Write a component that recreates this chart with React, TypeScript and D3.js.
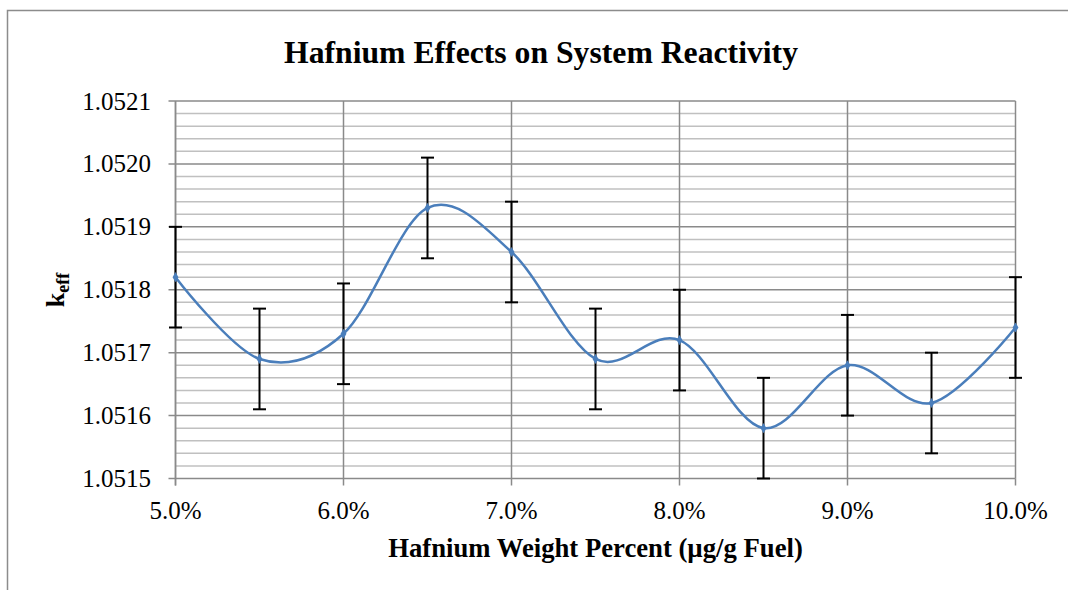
import React, { useEffect } from "react";
import * as d3 from "d3";

const xValues = [5.0, 5.5, 6.0, 6.5, 7.0, 7.5, 8.0, 8.5, 9.0, 9.5, 10.0];
const keffValues = [1.05182, 1.05169, 1.05173, 1.05193, 1.05186, 1.05169, 1.05172, 1.05158, 1.05168, 1.05162, 1.05174];
const errValues = [0.00008, 0.00008, 0.00008, 0.00008, 0.00008, 0.00008, 0.00008, 0.00008, 0.00008, 0.00008, 0.00008];
const xTicks = [5, 6, 7, 8, 9, 10];
const yMajorTicks = [1.0515, 1.0516, 1.0517, 1.0518, 1.0519, 1.052, 1.0521];

const W = 1068;
const H = 590;
const left = 175.5;
const right = 1015.5;
const top = 101;
const bottom = 478.5;

export default function App() {
  useEffect(() => {
    document.body.style.margin = "0";
  }, []);

  const x = d3.scaleLinear().domain([5, 10]).range([left, right]);
  const y = d3.scaleLinear().domain([1.0515, 1.0521]).range([bottom, top]);

  const minorTicks: number[] = [];
  for (let i = 0; i <= 30; i++) {
    if (i % 5 !== 0) minorTicks.push(1.0515 + i * 0.00002);
  }

  const pts: [number, number][] = xValues.map((v, i) => [x(v), y(keffValues[i])]);
  const line = d3.line<[number, number]>().curve(d3.curveCardinal.tension(0))(pts) || "";

  const font = "'Liberation Serif', 'Times New Roman', serif";
  const cap = 6.5;

  return (
    <svg width={W} height={H} style={{ position: "absolute", left: 0, top: 0, display: "block" }} fontFamily={font}>
      <rect x={0} y={0} width={W} height={H} fill="#fff" />
      <rect x={7.5} y={10.5} width={W + 20} height={H + 20} fill="none" stroke="#8c8c8c" strokeWidth={1.5} />

      <text x={541} y={63} textAnchor="middle" fontSize={31.7} fontWeight="bold" fill="#000">
        Hafnium Effects on System Reactivity
      </text>

      {minorTicks.map((t, i) => (
        <line key={"mn" + i} x1={left} x2={right} y1={y(t)} y2={y(t)} stroke="#c0c0c0" strokeWidth={1.5} />
      ))}
      {xTicks.map((t) => (
        <line key={"vx" + t} x1={x(t)} x2={x(t)} y1={top} y2={bottom} stroke="#8a8a8a" strokeWidth={1.5} />
      ))}
      {yMajorTicks.map((t) => (
        <line key={"mj" + t} x1={left - 7} x2={right} y1={y(t)} y2={y(t)} stroke="#8a8a8a" strokeWidth={1.5} />
      ))}
      <line x1={left} x2={left} y1={top} y2={bottom + 7} stroke="#8a8a8a" strokeWidth={1.5} />
      {xTicks.map((t) => (
        <line key={"tx" + t} x1={x(t)} x2={x(t)} y1={bottom} y2={bottom + 7} stroke="#8a8a8a" strokeWidth={1.5} />
      ))}

      {yMajorTicks.map((t) => (
        <text key={"yl" + t} x={151} y={y(t) + 8.5} textAnchor="end" fontSize={25} fill="#000">
          {t.toFixed(4)}
        </text>
      ))}
      {xTicks.map((t) => (
        <text key={"xl" + t} x={x(t)} y={519} textAnchor="middle" fontSize={25} fill="#000">
          {t.toFixed(1) + "%"}
        </text>
      ))}

      <text x={595.5} y={557} textAnchor="middle" fontSize={26.7} fontWeight="bold" fill="#000">
        Hafnium Weight Percent (µg/g Fuel)
      </text>
      <text transform={`translate(64, 290) rotate(-90)`} textAnchor="middle" fontSize={26} fontWeight="bold" fill="#000">
        k<tspan fontSize={18} dy={5}>eff</tspan>
      </text>

      {xValues.map((v, i) => {
        const cx = x(v);
        const y1 = y(keffValues[i] + errValues[i]);
        const y2 = y(keffValues[i] - errValues[i]);
        return (
          <g key={"eb" + i} stroke="#000" strokeWidth={2}>
            <line x1={cx} x2={cx} y1={y1} y2={y2} />
            <line x1={cx - cap} x2={cx + cap} y1={y1} y2={y1} />
            <line x1={cx - cap} x2={cx + cap} y1={y2} y2={y2} />
          </g>
        );
      })}

      <path d={line} fill="none" stroke="#4a7ebb" strokeWidth={2.5} />
      {pts.map((p, i) => (
        <path key={"mk" + i} d={d3.symbol(d3.symbolDiamond, 30)() || ""} transform={`translate(${p[0]},${p[1]})`} fill="#4a7ebb" />
      ))}
    </svg>
  );
}
